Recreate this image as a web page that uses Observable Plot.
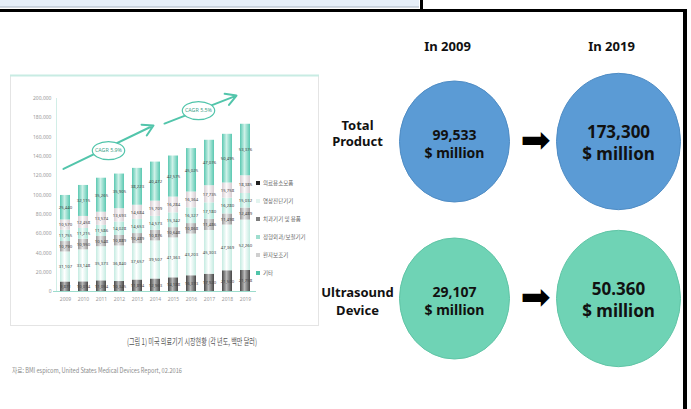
<!DOCTYPE html>
<html><head><meta charset="utf-8">
<script src="https://cdn.jsdelivr.net/npm/d3@7"></script>
<script src="https://cdn.jsdelivr.net/npm/@observablehq/plot@0.6"></script>
<style>
html,body{margin:0;padding:0;background:#fff;}
#root{position:relative;width:691px;height:409px;overflow:hidden;background:#fff;font-family:"Noto Sans",sans-serif;}
#root svg{position:absolute;overflow:visible;}
</style></head><body><div id="root"></div>
<script>
// ---------- data: left stacked bar chart (백만 달러) ----------
const years = ["2009","2010","2011","2012","2013","2014","2015","2016","2017","2018","2019"];
const seriesNames = ["의료용소모품","영상진단기기","치과기기 및 용품","정형외과/보철기기","환자보조기","기타"];
const consumables = [9871, 10014, 11054, 10345, 11894, 12963, 14188, 16313, 17920, 21500, 21758];
const imaging     = [31107, 33148, 35373, 36840, 37657, 39507, 41363, 43203, 45303, 47369, 52260];
const dental      = [10790, 10950, 10548, 10889, 10489, 10876, 10648, 10868, 11486, 11498, 12489];
const ortho       = [11755, 11215, 11586, 14028, 14653, 14573, 15342, 16327, 17180, 16280, 15032];
const patientAids = [10570, 12458, 13574, 13693, 14684, 15709, 16284, 16364, 17735, 15758, 18385];
const others      = [25440, 32115, 35265, 35905, 38223, 40472, 42575, 45025, 47076, 50495, 53376];
const yTicks = [0, 20000, 40000, 60000, 80000, 100000, 120000, 140000, 160000, 180000, 200000];
const cagrLabels = ["CAGR 5.9%", "CAGR 5.5%"];
const cagrFrom = ["2009", "2014"], cagrTo = ["2014", "2018"];
const cagrStart = [127000, 174000], cagrEnd = [172000, 203000];
const cagrAt = ["2011", "2016"], cagrMid = [146000, 187500];
const captionText = "(그림 1) 미국 의료기기 시장현황 (각 년도, 백만 달러)";
const sourceText = "자료: BMI espicom, United States Medical Devices Report, 02.2016";

// ---------- data: right infographic ----------
const columns = ["In 2009", "In 2019"];
const rowNames = ["Total Product", "Ultrasound Device"];
const totalProduct = ["99,533", "173,300"];
const ultrasound = ["29,107", "50.360"];
const unit = "$ million";

// ---------- styles ----------
const cyl = [["#474747","#b8b8b8"],["#c4ebe1","#ffffff"],["#979797","#e8e8e8"],["#a3e1d3","#f0fbf8"],["#d6cdd2","#fdfafb"],["#5ac8b1","#cdf1e8"]];
const legendColors = ["#222","#e2f4ef","#7d7d7d","#9fdecf","#cfcfcf","#4fc4a9"];
const teal = "#52c5ab";

const allSeries = [consumables, imaging, dental, ortho, patientAids, others];
const rows = [];
years.forEach((yr, j) => seriesNames.forEach((s, i) => rows.push({year: yr, series: s, value: allSeries[i][j]})));
const cagr = cagrLabels.map((label, i) => ({label, from: cagrFrom[i], to: cagrTo[i], v1: cagrStart[i], v2: cagrEnd[i], at: cagrAt[i], mid: cagrMid[i]}));

const root = document.getElementById("root");

// ---------- background layer ----------
const bg = d3.select(root).append("svg").attr("width", 691).attr("height", 409).style("left","0px").style("top","0px");
bg.append("rect").attr("x",10.5).attr("y",75.5).attr("width",308).attr("height",250).attr("fill","#fff").attr("stroke","#e4e4e4");
bg.append("line").attr("x1",10).attr("x2",319).attr("y1",75.5).attr("y2",75.5).attr("stroke","#c8ece3").attr("stroke-width",2);
bg.append("text").attr("x",127).attr("y",345).attr("textLength",130).attr("lengthAdjust","spacingAndGlyphs")
  .attr("font-family","Noto Sans CJK KR").attr("font-size",9).attr("fill","#555").text(captionText);
bg.append("text").attr("x",12).attr("y",373).attr("textLength",170).attr("lengthAdjust","spacingAndGlyphs")
  .attr("font-family","Noto Sans CJK KR").attr("font-size",7).attr("fill","#8c8c8c").text(sourceText);
const legY = [183, 201, 219, 237, 255, 273];
seriesNames.forEach((s, i) => {
  bg.append("rect").attr("x",256).attr("y",legY[i]-2).attr("width",4).attr("height",4).attr("fill",legendColors[i]);
  bg.append("text").attr("x",263).attr("y",legY[i]+2).attr("font-family","Noto Sans CJK KR").attr("font-size",5.5).attr("fill","#666").text(s);
});

// ---------- left: stacked bar chart ----------
const barPlot = Plot.plot({
  width: 320, height: 409,
  marginLeft: 53, marginRight: 64, marginTop: 98, marginBottom: 118,
  x: {domain: years, paddingInner: 0.46, paddingOuter: 0.216, label: null, axis: null},
  y: {domain: [0, 200000], label: null, axis: null},
  color: {domain: seriesNames, range: seriesNames.map((d, i) => `url(#cyl${i})`)},
  style: {background: "transparent", fontFamily: "Noto Sans"},
  marks: [
    Plot.ruleX([years[0]], {dx: -9, y1: 0, y2: 200000, stroke: "#d2eee7"}),
    Plot.axisY({ticks: yTicks, tickFormat: d3.format(","), tickSize: 0, tickPadding: 2, fontSize: 5, fill: "#999", label: null}),
    Plot.axisX({tickSize: 0, tickPadding: 6, fontSize: 5, fill: "#999", label: null}),
    Plot.barY(rows, {x: "year", y: "value", fill: "series", z: "series"}),
    Plot.ruleY([0], {stroke: "#9cdccc", strokeWidth: 1.2}),
    Plot.text(rows, Plot.stackY({x: "year", y: "value", z: "series", text: d => d3.format(",")(d.value), fontSize: 4.3, fill: "#444"})),
    Plot.arrow([cagr[0]], {x1: "from", x2: "to", y1: "v1", y2: "v2", dx: -2, stroke: teal, strokeWidth: 2, headLength: 9}),
    Plot.arrow([cagr[1]], {x1: "from", x2: "to", y1: "v1", y2: "v2", dx: 9, stroke: teal, strokeWidth: 2, headLength: 9}),
    Plot.dot(cagr, {x: "at", y: "mid", dx: 7, r: 9, fill: "#fff", stroke: teal, strokeWidth: 1.2}),
    Plot.text(cagr, {x: "at", y: "mid", dx: 7, text: "label", fontSize: 5.3, fill: "#3f9f8a"})
  ]
});
const defs = d3.select(barPlot).insert("defs", ":first-child");
cyl.forEach(([edge, mid], i) => {
  const g = defs.append("linearGradient").attr("id", `cyl${i}`).attr("x1", 0).attr("x2", 1).attr("y1", 0).attr("y2", 0);
  g.append("stop").attr("offset", "0%").attr("stop-color", edge);
  g.append("stop").attr("offset", "45%").attr("stop-color", mid);
  g.append("stop").attr("offset", "100%").attr("stop-color", edge);
});
barPlot.style.left = "0px"; barPlot.style.top = "0px";
root.appendChild(barPlot);
function stretch(svg, sx, sy) {
  d3.select(svg).selectAll('g[aria-label="dot"] circle').each(function() {
    const c = d3.select(this), cx = +c.attr("cx"), cy = +c.attr("cy");
    c.attr("transform", `translate(${cx},${cy}) scale(${sx},${sy}) translate(${-cx},${-cy})`).attr("vector-effect", "non-scaling-stroke");
  });
}
stretch(barPlot, 1.8, 1);

// ---------- right: circles ----------
const cells = [];
rowNames.forEach((r, i) => columns.forEach((c, j) => cells.push({row: r, col: c, value: (i === 0 ? totalProduct : ultrasound)[j]})));
const fills = {"Total Product": "#5b9bd5", "Ultrasound Device": "#6fd3b5"};
const strokes = {"Total Product": "#4f8cc4", "Ultrasound Device": "#60c5a6"};
const rightPlot = Plot.plot({
  width: 371, height: 409,
  marginLeft: 134, marginRight: 73, marginTop: 141, marginBottom: 111,
  x: {type: "point", domain: columns, padding: 0, axis: null},
  y: {type: "point", domain: rowNames, padding: 0, axis: null},
  style: {background: "transparent", fontFamily: "Noto Sans"},
  marks: rowNames.flatMap(r => [
    Plot.dot(cells.filter(d => d.row === r && d.col === columns[0]), {x: "col", y: "row", r: 55, fill: fills[r], stroke: strokes[r], strokeWidth: 1}),
    Plot.dot(cells.filter(d => d.row === r && d.col === columns[1]), {x: "col", y: "row", r: 62, fill: fills[r], stroke: strokes[r], strokeWidth: 1})
  ]).concat([
    Plot.text(cells.filter(d => d.col === columns[0]), {x: "col", y: "row", text: d => `${d.value}\n${unit}`, dy: 2, fontSize: 14, fontWeight: "bold", lineHeight: 1.3, fill: "#111"}),
    Plot.text(cells.filter(d => d.col === columns[1]), {x: "col", y: "row", text: d => `${d.value}\n${unit}`, dy: 0, fontSize: 17, fontWeight: "bold", lineHeight: 1.3, fill: "#111"}),
    Plot.text([rowNames[0]], {x: () => columns[0], y: d => d, text: d => d.replace(" ", "\n"), dx: -97, dy: -8.5, fontSize: 13, fontWeight: "bold", lineHeight: 1.25, fill: "#111"}),
    Plot.text([rowNames[1]], {x: () => columns[0], y: d => d, text: d => d.replace(" ", "\n"), dx: -97, dy: 2, fontSize: 13, fontWeight: "bold", lineHeight: 1.32, fill: "#111"}),
    Plot.text(rowNames, {x: () => columns[0], y: d => d, text: () => "➡", dx: 81, dy: -1, fontSize: 36, fontFamily: "DejaVu Sans", fill: "#000"}),
    Plot.text(columns, {x: d => d, text: d => d, frameAnchor: "top", lineAnchor: "middle", dy: -95, dx: -7, fontSize: 13, fontWeight: "bold", fill: "#111"})
  ])
});
rightPlot.style.left = "320px"; rightPlot.style.top = "0px";
root.appendChild(rightPlot);
stretch(rightPlot, 1, 1.1);

// ---------- frame layer ----------
const fg = d3.select(root).append("svg").attr("width", 691).attr("height", 409).style("left","0px").style("top","0px");
fg.append("rect").attr("x",0).attr("y",0).attr("width",419).attr("height",7).attr("fill","#e6eef8");
fg.append("line").attr("x1",0).attr("x2",419).attr("y1",7).attr("y2",7).attr("stroke","#a9b4c2");
fg.append("rect").attr("x",420).attr("y",0).attr("width",3).attr("height",11).attr("fill","#000");
fg.append("rect").attr("x",0).attr("y",9).attr("width",687).attr("height",3).attr("fill","#000");
fg.append("rect").attr("x",683).attr("y",9).attr("width",4).attr("height",400).attr("fill","#000");
</script></body></html>
